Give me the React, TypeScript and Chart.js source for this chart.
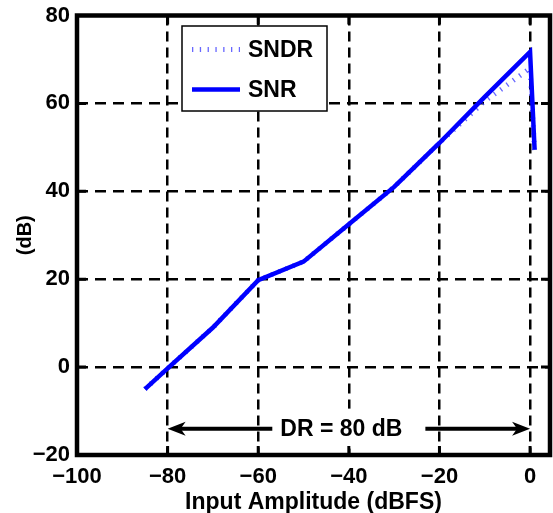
import { useEffect, useRef } from "react";
import { Chart, registerables } from "chart.js";

Chart.register(...registerables);

// Input amplitude sweep (dBFS) and the measured ratios (dB)
const inputLevels = [-85, -80, -70, -60, -50, -40, -30, -20, -10, 0, 1];
const snrValues = [-5, -0.3, 9, 19.8, 24, 32.5, 41, 51, 61.5, 71.7, 49.5];
const sndrValues = [-5, -0.3, 9, 19.8, 24, 32.5, 41, 51, 60.5, 68, 49];

const xTickValues = [-100, -80, -60, -40, -20, 0];
const yTickValues = [-20, 0, 20, 40, 60, 80];

// Dynamic range annotation
const drSpan = [-80, 0];
const drLevel = -14;
const drLabel = "DR = 80 dB";

const FONT = "'Liberation Sans', Arial, Helvetica, sans-serif";

const fmt = (v: number) => (v < 0 ? "\u2212" + Math.abs(v) : String(v));

const framePlugin = {
  id: "frame",
  afterDatasetsDraw(chart: any) {
    const { ctx, chartArea: a, scales } = chart;
    const xs = scales.x;
    const ys = scales.y;
    ctx.save();

    // DR arrow with its label
    const y = ys.getPixelForValue(drLevel);
    const x0 = xs.getPixelForValue(drSpan[0]);
    const x1 = xs.getPixelForValue(drSpan[1]);
    ctx.strokeStyle = "#000";
    ctx.fillStyle = "#000";
    ctx.lineWidth = 4;
    ctx.setLineDash([]);
    ctx.beginPath();
    ctx.moveTo(x0 + 10, y);
    ctx.lineTo(x1 - 10, y);
    ctx.stroke();
    const head = (tip: number, dir: number) => {
      ctx.beginPath();
      ctx.moveTo(tip, y);
      ctx.lineTo(tip + dir * 18, y - 7);
      ctx.lineTo(tip + dir * 13, y);
      ctx.lineTo(tip + dir * 18, y + 7);
      ctx.closePath();
      ctx.fill();
    };
    head(x0, 1);
    head(x1, -1);

    ctx.font = `bold 23px ${FONT}`;
    const tw = ctx.measureText(drLabel).width;
    const boxW = tw + 31;
    const boxH = 40;
    const cx = xs.getPixelForValue((drSpan[0] + drSpan[1]) / 2);
    const bx = cx - boxW / 2;
    ctx.fillStyle = "#fff";
    ctx.fillRect(bx, y - boxH / 2, boxW, boxH);
    ctx.fillStyle = "#000";
    ctx.textAlign = "left";
    ctx.textBaseline = "middle";
    ctx.fillText(drLabel, bx + 8, y + 1);

    // Legend box
    const lx = a.left + 105;
    const ly = a.top + 10.5;
    const lw = 145;
    const lh = 85;
    ctx.fillStyle = "#fff";
    ctx.fillRect(lx, ly, lw, lh);
    ctx.lineWidth = 1.5;
    ctx.strokeStyle = "#000";
    ctx.strokeRect(lx, ly, lw, lh);
    chart.data.datasets.forEach((ds: any, i: number) => {
      const ry = ly + 23.5 + i * 40;
      ctx.save();
      ctx.strokeStyle = ds.borderColor;
      ctx.lineWidth = ds.borderWidth;
      ctx.setLineDash(ds.borderDash || []);
      ctx.lineCap = "butt";
      ctx.beginPath();
      ctx.moveTo(lx + 10, ry);
      ctx.lineTo(lx + 58, ry);
      ctx.stroke();
      ctx.restore();
      ctx.fillStyle = "#000";
      ctx.font = `bold 23px ${FONT}`;
      ctx.textAlign = "left";
      ctx.textBaseline = "middle";
      ctx.fillText(ds.label, lx + 66, ry + 1);
    });
    ctx.restore();
  },
  afterDraw(chart: any) {
    const { ctx, chartArea: a, scales } = chart;
    ctx.save();
    ctx.setLineDash([]);
    ctx.strokeStyle = "#000";
    // inward tick marks on all four sides
    ctx.lineWidth = 3;
    const tl = 9;
    xTickValues.forEach((v) => {
      const px = scales.x.getPixelForValue(v);
      if (px < a.left + 3 || px > a.right - 3) return;
      ctx.beginPath();
      ctx.moveTo(px, a.bottom);
      ctx.lineTo(px, a.bottom - tl);
      ctx.moveTo(px, a.top);
      ctx.lineTo(px, a.top + tl);
      ctx.stroke();
    });
    yTickValues.forEach((v) => {
      const py = scales.y.getPixelForValue(v);
      if (py < a.top + 3 || py > a.bottom - 3) return;
      ctx.beginPath();
      ctx.moveTo(a.left, py);
      ctx.lineTo(a.left + tl, py);
      ctx.moveTo(a.right, py);
      ctx.lineTo(a.right - tl, py);
      ctx.stroke();
    });
    // axes box
    ctx.lineWidth = 4.5;
    ctx.lineJoin = "miter";
    ctx.strokeRect(a.left, a.top, a.right - a.left, a.bottom - a.top);
    ctx.restore();
  },
};

export default function App() {
  const canvasRef = useRef<HTMLCanvasElement | null>(null);

  useEffect(() => {
    const canvas = canvasRef.current;
    if (!canvas) return;
    const chart = new Chart(canvas, {
      type: "line",
      data: {
        datasets: [
          {
            label: "SNDR",
            data: inputLevels.map((x, i) => ({ x, y: sndrValues[i] })),
            borderColor: "rgba(40,40,255,0.7)",
            borderWidth: 5,
            borderDash: [1.3, 6.5],
            pointRadius: 0,
            tension: 0,
            order: 1,
          },
          {
            label: "SNR",
            data: inputLevels.map((x, i) => ({ x, y: snrValues[i] })),
            borderColor: "#0000ff",
            borderWidth: 4.5,
            pointRadius: 0,
            tension: 0,
            order: 0,
          },
        ],
      },
      options: {
        animation: false,
        responsive: false,
        devicePixelRatio: 1,
        layout: { padding: { top: 15.5, right: 3, left: 0, bottom: 0 } },
        plugins: {
          legend: { display: false },
          tooltip: { enabled: false },
        },
        scales: {
          x: {
            type: "linear",
            min: -100,
            max: 4.4,
            afterBuildTicks: (s: any) => {
              s.ticks = xTickValues.map((value) => ({ value }));
            },
            afterFit: (s: any) => {
              s.height = 58;
              s.paddingLeft = 0;
              s.paddingRight = 0;
            },
            grid: { color: "#000", lineWidth: 2.5, drawTicks: false },
            border: { display: false, dash: [10, 6] },
            ticks: {
              color: "#000",
              padding: 9,
              font: { family: FONT, size: 22, weight: "bold" },
              callback: (v: any) => fmt(Number(v)),
            },
            title: {
              display: true,
              text: "Input Amplitude (dBFS)",
              color: "#000",
              font: { family: FONT, size: 23, weight: "bold", lineHeight: 1 },
              padding: { top: 0, bottom: -1 },
            },
          },
          y: {
            type: "linear",
            min: -20,
            max: 80,
            afterBuildTicks: (s: any) => {
              s.ticks = yTickValues.map((value) => ({ value }));
            },
            afterFit: (s: any) => {
              s.width = 77;
              s.paddingTop = 0;
              s.paddingBottom = 0;
            },
            grid: { color: "#000", lineWidth: 2.5, drawTicks: false },
            border: { display: false, dash: [11, 7] },
            ticks: {
              color: "#000",
              padding: 7,
              font: { family: FONT, size: 22, weight: "bold" },
              callback: (v: any) => fmt(Number(v)),
            },
            title: {
              display: true,
              text: "(dB)",
              color: "#000",
              font: { family: FONT, size: 20, weight: "bold", lineHeight: 1 },
              padding: { top: 15, bottom: 0 },
            },
          },
        },
      },
      plugins: [framePlugin],
    } as any);
    return () => chart.destroy();
  }, []);

  return (
    <div style={{ position: "absolute", left: 0, top: 0, width: 553, height: 513, background: "#fff" }}>
      <canvas ref={canvasRef} width={553} height={513} style={{ display: "block" }} />
    </div>
  );
}
